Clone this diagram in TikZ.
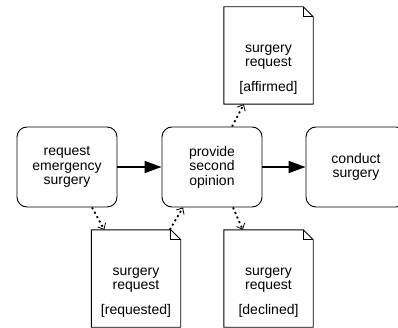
\documentclass[tikz,border=0pt]{standalone}
\usepackage{fontspec}
\setmainfont{Liberation Sans}
\usetikzlibrary{arrows.meta, positioning}

% folded page outline around an (empty) node
\newcommand{\foldpage}[1]{%
  \draw[line width=0.9pt] (#1.north west) -- ([xshift=-10pt]#1.north east)
    -- ([yshift=-10pt]#1.north east) -- (#1.south east)
    -- (#1.south west) -- cycle;
  \draw[line width=0.7pt] ([xshift=-10pt]#1.north east) |- ([yshift=-10pt]#1.north east);
}

\begin{document}
\begin{tikzpicture}[
  x=1pt, y=1pt,
  task/.style    = {draw, line width=0.9pt, rounded corners=10pt,
                    minimum width=100pt, minimum height=80pt,
                    align=center, inner sep=0pt},
  doc/.style     = {minimum width=89pt, minimum height=97pt, inner sep=0pt},
  doctext/.style = {align=center, inner sep=0pt},
  flow/.style    = {-{Triangle[length=17pt, width=12pt]}, line width=1.8pt},
  assoc/.style   = {dash pattern=on 2pt off 3pt, line width=1.8pt,
                    -{Straight Barb[line width=0.8pt, length=5pt, width=9pt]}},
  every node/.style = {font=\fontsize{14}{14.5}\selectfont},
]
\useasboundingbox (0,0) rectangle (398,327);

% Tasks
\node[task] (reqsurg) at (67,160)  {request\\emergency\\surgery};
\node[task] (opinion) at (212,160) {provide\\second\\opinion};
\node[task] (conduct) at (356,160) {conduct\\surgery};

% Data objects
\node[doc] (affirmed)  at (268.5,271.5) {};
\node[doc] (requested) at (136,48.5)    {};
\node[doc] (declined)  at (268.5,48.5)  {};
\foldpage{affirmed}
\foldpage{requested}
\foldpage{declined}
\node[doctext] (afftxt) at ([yshift=-14pt]affirmed.center)
  {surgery\\request\\[10pt]{[affirmed]}};
\node[doctext] (reqtxt) at ([yshift=-14pt]requested.center)
  {surgery\\request\\[10pt]{[requested]}};
\node[doctext] (dectxt) at ([yshift=-14pt]declined.center)
  {surgery\\request\\[10pt]{[declined]}};

% Sequence flow
\draw[flow] (reqsurg) -- (opinion);
\draw[flow] (opinion) -- (conduct);

% Data associations
\draw[assoc] ([xshift=25pt]reqsurg.south) -- ([xshift=13pt]requested.north west);
\draw[assoc] ([xshift=-11pt]requested.north east) -- ([xshift=-29pt]opinion.south);
\draw[assoc] ([xshift=21pt]opinion.south) -- ([xshift=19pt]declined.north west);
\draw[assoc] ([xshift=20pt]opinion.north) -- ([xshift=20pt]affirmed.south west);

\end{tikzpicture}
\end{document}
